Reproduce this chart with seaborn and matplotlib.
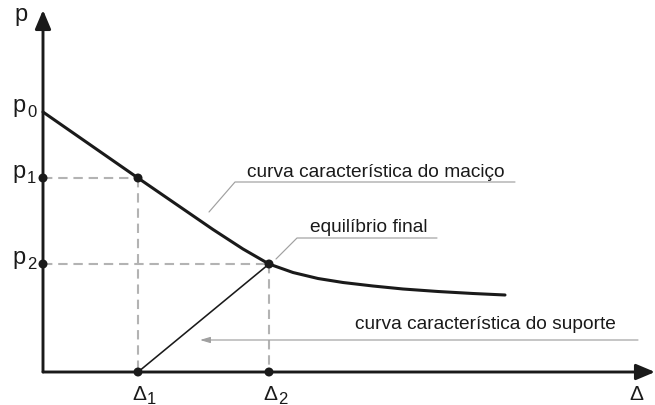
import matplotlib
matplotlib.use("Agg")
import matplotlib.pyplot as plt
import seaborn as sns
import pandas as pd

sns.set_theme(style="white")
plt.rcParams["font.family"] = ["Liberation Sans", "DejaVu Sans"]

# Ground reaction curve (curva característica do maciço): displacement vs pressure
ground_delta = [0, 95, 170, 200, 226, 250, 275, 300, 330, 360, 395, 430, 462]
ground_p = [260, 194, 142.5, 123, 108, 99.5, 93.5, 89.5, 86, 83, 80.5, 78.5, 77]

# Support reaction line (curva característica do suporte)
support_delta = [95, 226]
support_p = [0, 108]

# Key states
p_levels = {"0": 260, "1": 194, "2": 108}
delta_levels = {"1": 95, "2": 226}

ground = pd.DataFrame({"delta": ground_delta, "p": ground_p})
support = pd.DataFrame({"delta": support_delta, "p": support_p})

fig = plt.figure(figsize=(6.55, 4.06), dpi=100)
ax = fig.add_axes([0, 0, 1, 1])
ax.set_xlim(-43, 612)
ax.set_ylim(-33, 373)
ax.axis("off")

ink = "#1a1a1a"
gray = "#b3b3b3"
lead = "#a0a0a0"

# dashed projection lines
d1, d2 = delta_levels["1"], delta_levels["2"]
p1, p2 = p_levels["1"], p_levels["2"]
dash = dict(color=gray, lw=1.5, linestyle=(0, (4.5, 2.8)), zorder=1)
ax.plot([0, d1], [p1, p1], **dash)
ax.plot([d1, d1], [p1, 0], **dash)
ax.plot([0, d2], [p2, p2], **dash)
ax.plot([d2, d2], [p2, 0], **dash)

# axes with arrow heads
head = "-|>,head_length=0.95,head_width=0.4"
ax.annotate("", xy=(612, 0), xytext=(0, 0),
            arrowprops=dict(arrowstyle=head, lw=2.1, color=ink,
                            shrinkA=0, shrinkB=0), zorder=3)
ax.annotate("", xy=(0, 362), xytext=(0, 0),
            arrowprops=dict(arrowstyle=head, lw=2.1, color=ink,
                            shrinkA=0, shrinkB=0), zorder=3)

sns.lineplot(data=ground, x="delta", y="p", ax=ax, color=ink, lw=2.2,
             sort=False, estimator=None, zorder=4)
sns.lineplot(data=support, x="delta", y="p", ax=ax, color=ink, lw=1.15,
             sort=False, estimator=None, zorder=4)

pts = pd.DataFrame({
    "delta": [0, 0, d1, d2, d1, d2],
    "p": [p1, p2, p1, p2, 0, 0],
})
sns.scatterplot(data=pts, x="delta", y="p", ax=ax, color=ink, s=42,
                edgecolor="none", zorder=5)
ax.set_xlabel("")
ax.set_ylabel("")

# axis symbols with subscripts
main = dict(fontsize=17, color=ink, va="baseline", ha="left")
delta_font = dict(fontsize=15, color=ink, va="baseline", ha="left")
sub = dict(fontsize=12, color=ink, va="baseline", ha="left")
ax.text(-29, 352, "p", **main)
for key, val in p_levels.items():
    ax.text(-31, val + 1, "p", **main)
    ax.text(-16, val - 4, key, **sub)
for key, val in delta_levels.items():
    ax.text(val - 6, -27, "Δ", **delta_font)
    ax.text(val + 9, -31, key, **sub)
ax.text(586, -27, "Δ", **delta_font)

# annotations with leader lines
note = dict(fontsize=13.8, color=ink, va="baseline", ha="left")
ax.plot([472, 192, 166], [190, 190, 160], color=lead, lw=0.85, zorder=2)
ax.text(204, 196, "curva característica do maciço", **note)

ax.plot([394, 254, 233], [134, 134, 113], color=lead, lw=0.85, zorder=2)
ax.text(267, 141, "equilíbrio final", **note)

ax.annotate("", xy=(157, 32), xytext=(595, 32),
            arrowprops=dict(arrowstyle="-|>,head_length=0.5,head_width=0.15",
                            lw=0.85, color=lead, shrinkA=0, shrinkB=0), zorder=2)
ax.text(312, 44, "curva característica do suporte", **note)

fig.savefig("out.png", dpi=100)
